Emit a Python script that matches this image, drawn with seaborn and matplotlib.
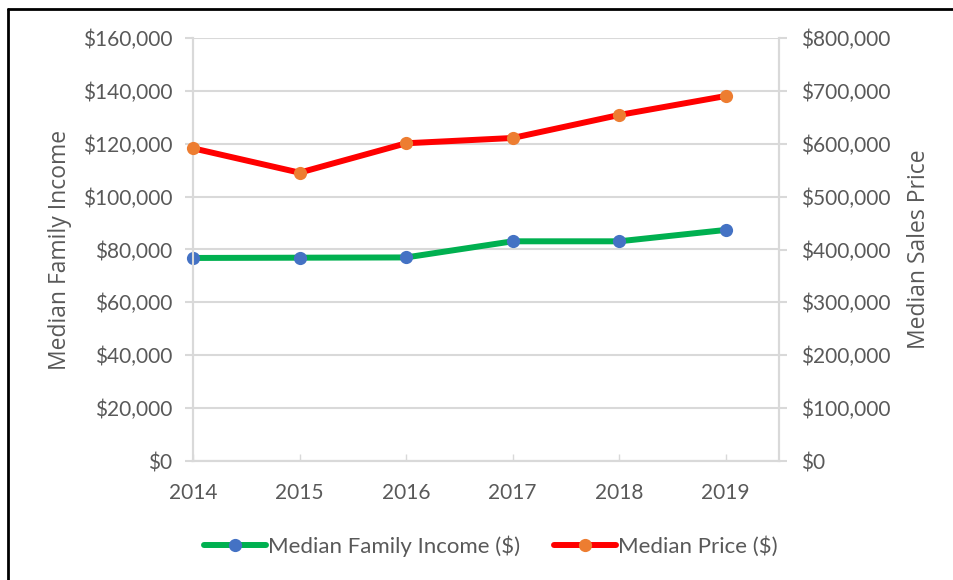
import numpy as np
import pandas as pd
import matplotlib
matplotlib.use('Agg')
import matplotlib.pyplot as plt
import matplotlib.ticker as mticker
from matplotlib.lines import Line2D
import seaborn as sns

years = [2014, 2015, 2016, 2017, 2018, 2019]
income = [76800, 76900, 77000, 83100, 83100, 87400]
price = [591400, 545300, 600900, 610900, 654400, 690300]

left_ticks = [0, 20000, 40000, 60000, 80000, 100000, 120000, 140000, 160000]
right_ticks = [0, 100000, 200000, 300000, 400000, 500000, 600000, 700000, 800000]

txt = '#595959'
grid = '#D9D9D9'

sns.set_style('white')
plt.rcParams['font.family'] = ['Lato', 'DejaVu Sans']

df = pd.DataFrame({'Year': years, 'Income': income, 'Price': price})

fig = plt.figure(figsize=(9.54, 5.8), dpi=100)
ax = fig.add_axes([193 / 954, 1 - 461 / 580, 586 / 954, 423 / 580])
ax2 = ax.twinx()

sns.lineplot(data=df, x='Year', y='Income', ax=ax, color='#00B050', lw=4.3,
             marker='o', markersize=9.5, markerfacecolor='#4472C4',
             markeredgecolor='#4472C4', markeredgewidth=0, zorder=3, clip_on=False)
sns.lineplot(data=df, x='Year', y='Price', ax=ax2, color='#FF0000', lw=4.3,
             marker='o', markersize=9.5, markerfacecolor='#ED7D31',
             markeredgecolor='#ED7D31', markeredgewidth=0, zorder=3, clip_on=False)

ax.set_xlim(2014, 2019.5)
ax.set_ylim(0, 160000)
ax2.set_ylim(0, 800000)
ax.set_xticks(years)
ax.set_yticks(left_ticks)
ax2.set_yticks(right_ticks)
fmt = mticker.FuncFormatter(lambda v, p: '${:,.0f}'.format(v))
ax.yaxis.set_major_formatter(fmt)
ax2.yaxis.set_major_formatter(fmt)

ax.grid(axis='y', color=grid, lw=1.5)
ax.set_axisbelow(True)
for a in (ax, ax2):
    for s in a.spines.values():
        s.set_color(grid)
        s.set_linewidth(1.5)
    a.spines['top'].set_visible(False)

ax.tick_params(axis='y', length=6, width=1.5, color=grid, labelcolor=txt,
               labelsize=15, pad=9)
ax.tick_params(axis='x', direction='in', length=5, width=1, color=grid,
               labelcolor=txt, labelsize=15, pad=16, bottom=True)
ax2.tick_params(axis='y', length=6, width=1.5, color=grid, labelcolor=txt,
                labelsize=15, pad=10)

ax.set_xlabel('')
ax.set_ylabel('Median Family Income', color=txt, fontsize=16.5, family='Open Sans')
ax2.set_ylabel('Median Sales Price', color=txt, fontsize=16.5, family='Open Sans')
ax.yaxis.set_label_coords(-0.2065, 0.5)
ax2.yaxis.set_label_coords(1.218, 0.5)

handles = [
    Line2D([], [], color='#00B050', lw=4.3, marker='o', markersize=9.5,
           markerfacecolor='#4472C4', markeredgewidth=0),
    Line2D([], [], color='#FF0000', lw=4.3, marker='o', markersize=9.5,
           markerfacecolor='#ED7D31', markeredgewidth=0),
]
fig.legend(handles, ['Median Family Income ($)', 'Median Price ($)'],
           loc='center', bbox_to_anchor=(491 / 954, 1 - 546 / 580), ncol=2,
           frameon=False, handlelength=2.8, handletextpad=0.1,
           columnspacing=1.5, fontsize=16, labelcolor=txt)

fig.add_artist(Line2D([8 / 954, 8 / 954], [0, 1 - 9 / 580], color='black',
                      lw=2, transform=fig.transFigure))
fig.add_artist(Line2D([8 / 954, 1], [1 - 9 / 580, 1 - 9 / 580], color='black',
                      lw=2, transform=fig.transFigure))

fig.savefig('out.png', dpi=100)
